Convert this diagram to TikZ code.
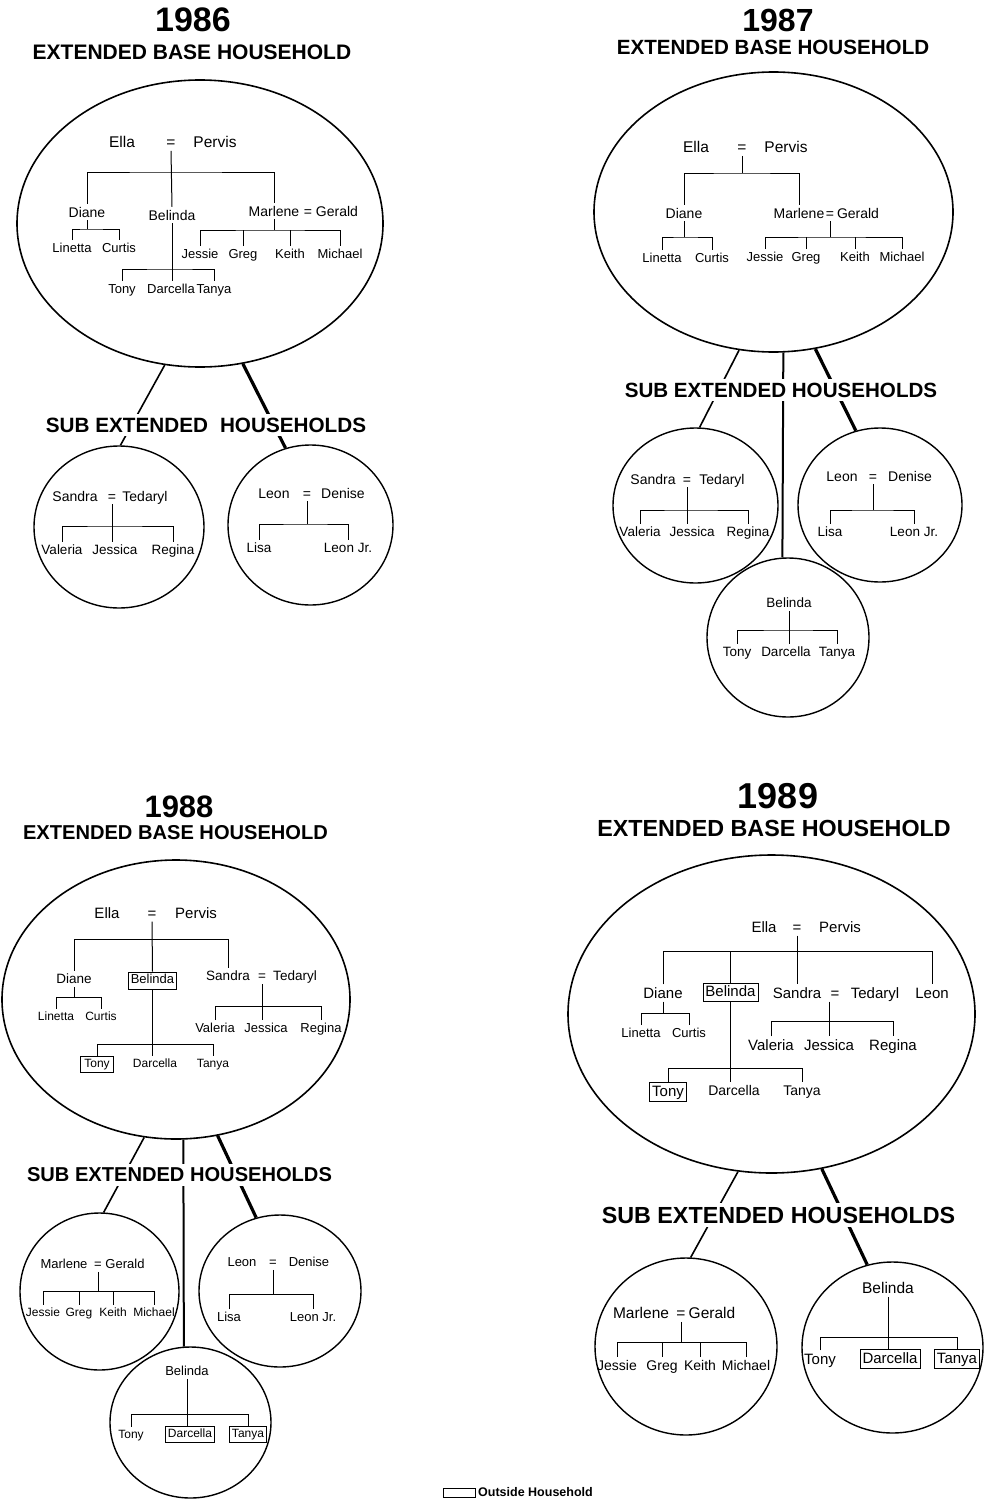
\documentclass[tikz,border=0pt]{standalone}
\usepackage{fontspec}
\setmainfont{Liberation Sans}
\usetikzlibrary{shapes.geometric}
\begin{document}
\begin{tikzpicture}[x=1pt,y=-1pt,
  nm/.style={inner xsep=0pt, inner ysep=3pt, text depth=0pt},
  f12/.style={font=\fontsize{12}{12}\selectfont, text height=8.6pt},
  f13/.style={font=\fontsize{13}{13}\selectfont, text height=9.4pt},
  f135/.style={font=\fontsize{13.5}{13.5}\selectfont, text height=9.7pt},
  f14/.style={font=\fontsize{14}{14}\selectfont, text height=10.1pt},
  f15/.style={font=\fontsize{15}{15}\selectfont, text height=10.8pt},
  f155/.style={font=\fontsize{15.5}{15.5}\selectfont, text height=11.2pt},
  bx/.style={draw, line width=0.8pt, inner xsep=2.5pt, inner ysep=2.5pt, text depth=2.5pt},
  tree/.style={line width=1pt},
  hh/.style={draw, ellipse, line width=1.6pt, inner sep=0pt},
  sh/.style={draw, ellipse, line width=1.4pt, inner sep=0pt},
  year/.style={inner sep=0pt},
  head/.style={inner sep=0pt},
  sub/.style={fill=white, inner xsep=1pt, inner ysep=4pt},
  link/.style={line width=1.6pt},
  linkM/.style={line width=2pt},
  linkT/.style={line width=3.2pt}
]
\useasboundingbox (0,0) rectangle (994,1499);

% ================= 1986 =================
\node[year, font=\bfseries\fontsize{34}{34}\selectfont] (y86) at (193,20) {1986};
\node[head, font=\bfseries\fontsize{21}{21}\selectfont] (h86) at (192,52) {EXTENDED BASE HOUSEHOLD};
\node[hh, minimum width=366pt, minimum height=287pt] (E86) at (200,223.5) {};
\node[nm,f155] (Ella86) at (122,142) {Ella};
\node[nm,f155] (eq86) at (171,142) {=};
\node[nm,f155] (Per86) at (215,142) {Pervis};
\node[nm,f14] (Dia86) at (87,212) {Diane};
\node[nm,f14] (Bel86) at (172,215) {Belinda};
\node[nm,f14] (Mar86) at (274,211) {Marlene};
\node[nm,f14] (eqM86) at (308,211) {=};
\node[nm,f14] (Ger86) at (337,211) {Gerald};
\node[nm,f13] (Lin86) at (72,248) {Linetta};
\node[nm,f13] (Cur86) at (119,248) {Curtis};
\node[nm,f13] (Jes86) at (200,254) {Jessie};
\node[nm,f13] (Gre86) at (243,254) {Greg};
\node[nm,f13] (Kei86) at (290,254) {Keith};
\node[nm,f13] (Mic86) at (340,254) {Michael};
\node[nm,f13] (Ton86) at (122,289) {Tony};
\node[nm,f13] (Dar86) at (171,289) {Darcella};
\node[nm,f13] (Tan86) at (214,289) {Tanya};
\coordinate (b86) at (171,172);
\coordinate (bD86) at (87,229);
\coordinate (bM86) at (270,230);
\coordinate (bB86) at (171,269);
\draw[tree] (eq86.south) -- (Bel86.north);
\draw[tree] (Dia86.north) |- (b86) -| (Mar86.north);
\draw[tree] (Dia86.south) -- (bD86);
\draw[tree] (Lin86.north) |- (bD86) -| (Cur86.north);
\draw[tree] (Mar86.south) -- (Mar86.south |- bM86);
\draw[tree] (Jes86.north) |- (bM86) -| (Mic86.north);
\draw[tree] (Gre86.north) -- (Gre86.north |- bM86);
\draw[tree] (Kei86.north) -- (Kei86.north |- bM86);
\draw[tree] (Bel86.south) -- (Bel86.south |- Dar86.north);
\draw[tree] (Ton86.north) |- (bB86) -| (Tan86.north);

% Sandra household 1986
\node[sh, minimum width=170pt, minimum height=162pt] (S86) at (119,527) {};
\node[nm,f14] (San86) at (75,496) {Sandra};
\node[nm,f14] (eqS86) at (112,496) {=};
\node[nm,f14] (Ted86) at (145,496) {Tedaryl};
\node[nm,f135] (Val86) at (62,550) {Valeria};
\node[nm,f135] (Jss86) at (115,550) {Jessica};
\node[nm,f135] (Reg86) at (173,550) {Regina};
\coordinate (bS86) at (112,526);
\draw[tree] (eqS86.south) -- (eqS86.south |- Jss86.north);
\draw[tree] (Val86.north) |- (bS86) -| (Reg86.north);

% Leon household 1986
\node[sh, minimum width=165pt, minimum height=160pt] (L86) at (310.5,525) {};
\node[nm,f14] (Leo86) at (274,493) {Leon};
\node[nm,f14] (eqL86) at (307,493) {=};
\node[nm,f14] (Den86) at (343,493) {Denise};
\node[nm,f135] (Lis86) at (259,548) {Lisa};
\node[nm,f135] (LJr86) at (348,548) {Leon Jr.};
\coordinate (bL86) at (307,524);
\draw[tree] (eqL86.south) -- (bL86);
\draw[tree] (Lis86.north) |- (bL86) -| (LJr86.north);

\draw[link] (E86.256) -- (S86.89);
\draw[linkT] (E86.287) -- (L86.108);
\node[sub, font=\bfseries\fontsize{20.7}{20.7}\selectfont] (s86) at (206,425) {SUB EXTENDED\hspace{12pt}HOUSEHOLDS};

% ================= 1987 =================
\node[year, font=\bfseries\fontsize{32}{32}\selectfont] (y87) at (778,20) {1987};
\node[head, font=\bfseries\fontsize{20.6}{20.6}\selectfont] (h87) at (773,47) {EXTENDED BASE HOUSEHOLD};
\node[hh, minimum width=359pt, minimum height=280pt] (E87) at (773.5,212) {};
\node[nm,f155] (Ella87) at (696,147) {Ella};
\node[nm,f155] (eq87) at (742,147) {=};
\node[nm,f155] (Per87) at (786,147) {Pervis};
\node[nm,f14] (Dia87) at (684,213) {Diane};
\node[nm,f14] (Mar87) at (799,213) {Marlene};
\node[nm,f14] (eqM87) at (830,213) {=};
\node[nm,f14] (Ger87) at (858,213) {Gerald};
\node[nm,f13] (Lin87) at (662,258) {Linetta};
\node[nm,f13] (Cur87) at (712,258) {Curtis};
\node[nm,f13] (Jes87) at (765,257) {Jessie};
\node[nm,f13] (Gre87) at (806,257) {Greg};
\node[nm,f13] (Kei87) at (855,257) {Keith};
\node[nm,f13] (Mic87) at (902,257) {Michael};
\coordinate (b87) at (742,173);
\coordinate (bD87) at (684,237);
\coordinate (bM87) at (830,237);
\draw[tree] (eq87.south) -- (b87);
\draw[tree] (Dia87.north) |- (b87) -| (Mar87.north);
\draw[tree] (Dia87.south) -- (bD87);
\draw[tree] (Lin87.north) |- (bD87) -| (Cur87.north);
\draw[tree] (eqM87.south) -- (bM87);
\draw[tree] (Jes87.north) |- (bM87) -| (Mic87.north);
\draw[tree] (Gre87.north) -- (Gre87.north |- bM87);
\draw[tree] (Kei87.north) -- (Kei87.north |- bM87);

% Sandra household 1987
\node[sh, minimum width=165pt, minimum height=155pt] (S87) at (695.5,505.5) {};
\node[nm,f14] (San87) at (653,479) {Sandra};
\node[nm,f14] (eqS87) at (687,479) {=};
\node[nm,f14] (Ted87) at (722,479) {Tedaryl};
\node[nm,f135] (Val87) at (640,532) {Valeria};
\node[nm,f135] (Jss87) at (692,532) {Jessica};
\node[nm,f135] (Reg87) at (748,532) {Regina};
\coordinate (bS87) at (688,510);
\draw[tree] (eqS87.south) -- (eqS87.south |- Jss87.north);
\draw[tree] (Val87.north) |- (bS87) -| (Reg87.north);

% Leon household 1987
\node[sh, minimum width=164pt, minimum height=154pt] (L87) at (880,505) {};
\node[nm,f14] (Leo87) at (842,476) {Leon};
\node[nm,f14] (eqL87) at (873,476) {=};
\node[nm,f14] (Den87) at (910,476) {Denise};
\node[nm,f135] (Lis87) at (830,532) {Lisa};
\node[nm,f135] (LJr87) at (914,532) {Leon Jr.};
\coordinate (bL87) at (873,510);
\draw[tree] (eqL87.south) -- (bL87);
\draw[tree] (Lis87.north) |- (bL87) -| (LJr87.north);

% Belinda household 1987
\node[sh, minimum width=162pt, minimum height=159pt] (B87) at (788,637.5) {};
\node[nm,f135] (Bel87) at (789,603) {Belinda};
\node[nm,f135] (Ton87) at (737,652) {Tony};
\node[nm,f135] (Dar87) at (786,652) {Darcella};
\node[nm,f135] (Tan87) at (837,652) {Tanya};
\coordinate (bB87) at (789,630);
\draw[tree] (Bel87.south) -- (Bel87.south |- Dar87.north);
\draw[tree] (Ton87.north) |- (bB87) -| (Tan87.north);

\draw[link] (E87.256) -- (S87.87);
\draw[linkM] (E87.274) -- (B87.94);
\draw[linkT] (E87.287) -- (L87.108);
\node[sub, font=\bfseries\fontsize{20.6}{20.6}\selectfont] (s87) at (781,390) {SUB EXTENDED HOUSEHOLDS};

% ================= 1988 =================
\node[year, font=\bfseries\fontsize{31}{31}\selectfont] (y88) at (179,807) {1988};
\node[head, font=\bfseries\fontsize{20.1}{20.1}\selectfont] (h88) at (175.5,833) {EXTENDED BASE HOUSEHOLD};
\node[hh, minimum width=348pt, minimum height=279pt] (E88) at (176,999.5) {};
\node[nm,f15] (Ella88) at (107,913) {Ella};
\node[nm,f15] (eq88) at (152,913) {=};
\node[nm,f15] (Per88) at (196,913) {Pervis};
\node[nm,f135] (Dia88) at (74,979) {Diane};
\node[nm,f13,bx] (Bel88) at (152.5,980.5) {Belinda};
\node[nm,f135] (San88) at (228,976) {Sandra};
\node[nm,f135] (eqS88) at (262,976) {=};
\node[nm,f135] (Ted88) at (295,976) {Tedaryl};
\node[nm,f12] (Lin88) at (56,1016) {Linetta};
\node[nm,f12] (Cur88) at (101,1016) {Curtis};
\node[nm,f13] (Val88) at (215,1028) {Valeria};
\node[nm,f13] (Jss88) at (266,1028) {Jessica};
\node[nm,f13] (Reg88) at (321,1028) {Regina};
\node[nm,f12,bx,inner xsep=4pt] (Ton88) at (97,1064) {Tony};
\node[nm,f12] (Dar88) at (155,1063) {Darcella};
\node[nm,f12] (Tan88) at (213,1063) {Tanya};
\coordinate (b88) at (152,939);
\coordinate (bD88) at (74,997);
\coordinate (bS88) at (262,1006);
\coordinate (bB88) at (152,1044);
\draw[tree] (eq88.south) -- (Bel88.north);
\draw[tree] (Dia88.north) |- (b88) -| (San88.north);
\draw[tree] (Dia88.south) -- (bD88);
\draw[tree] (Lin88.north) |- (bD88) -| (Cur88.north);
\draw[tree] (eqS88.south) -- (eqS88.south |- Jss88.north);
\draw[tree] (Val88.north) |- (bS88) -| (Reg88.north);
\draw[tree] (Bel88.south) -- (Bel88.south |- Dar88.north);
\draw[tree] (Ton88.north) |- (bB88) -| (Tan88.north);

% Marlene household 1988
\node[sh, minimum width=159pt, minimum height=157pt] (M88) at (99.5,1291.5) {};
\node[nm,f13] (Mar88) at (64,1264) {Marlene};
\node[nm,f13] (eqM88) at (98,1264) {=};
\node[nm,f13] (Ger88) at (125,1264) {Gerald};
\node[nm,f12] (Jes88) at (43,1312) {Jessie};
\node[nm,f12] (Gre88) at (79,1312) {Greg};
\node[nm,f12] (Kei88) at (113,1312) {Keith};
\node[nm,f12] (Mic88) at (154,1312) {Michael};
\coordinate (bM88) at (98,1291);
\draw[tree] (eqM88.south) -- (bM88);
\draw[tree] (Jes88.north) |- (bM88) -| (Mic88.north);
\draw[tree] (Gre88.north) -- (Gre88.north |- bM88);
\draw[tree] (Kei88.north) -- (Kei88.north |- bM88);

% Leon household 1988
\node[sh, minimum width=162pt, minimum height=152pt] (L88) at (280,1291) {};
\node[nm,f13] (Leo88) at (242,1262) {Leon};
\node[nm,f13] (eqL88) at (273,1262) {=};
\node[nm,f13] (Den88) at (309,1262) {Denise};
\node[nm,f13] (Lis88) at (229,1317) {Lisa};
\node[nm,f13] (LJr88) at (313,1317) {Leon Jr.};
\coordinate (bL88) at (273,1294);
\draw[tree] (eqL88.south) -- (bL88);
\draw[tree] (Lis88.north) |- (bL88) -| (LJr88.north);

% Belinda household 1988
\node[sh, minimum width=161pt, minimum height=151pt] (B88) at (190.5,1422.5) {};
\node[nm,f13] (Bel88b) at (187,1371) {Belinda};
\node[nm,f12] (Ton88b) at (131,1434) {Tony};
\node[nm,f12,bx] (Dar88b) at (190,1434) {Darcella};
\node[nm,f12,bx] (Tan88b) at (248,1434) {Tanya};
\coordinate (bB88b) at (187,1414);
\draw[tree] (Bel88b.south) -- (Bel88b.south |- Dar88b.north);
\draw[tree] (Ton88b.north) |- (bB88b) -| (Tan88b.north);

\draw[link] (E88.257) -- (M88.87);
\draw[linkM] (E88.273) -- (B88.95);
\draw[linkT] (E88.287) -- (L88.108);
\node[sub, font=\bfseries\fontsize{20.1}{20.1}\selectfont] (s88) at (179.5,1175) {SUB EXTENDED HOUSEHOLDS};

% ================= 1989 =================
\node[year, font=\bfseries\fontsize{36}{36}\selectfont] (y89) at (778,796) {1989};
\node[head, font=\bfseries\fontsize{23.3}{23.3}\selectfont] (h89) at (774,828) {EXTENDED BASE HOUSEHOLD};
\node[hh, minimum width=407pt, minimum height=318pt] (E89) at (771.5,1014) {};
\node[nm,f15] (Ella89) at (764,927) {Ella};
\node[nm,f15] (eq89) at (797,927) {=};
\node[nm,f15] (Per89) at (840,927) {Pervis};
\node[nm,f15] (Dia89) at (663,993) {Diane};
\node[nm,f15,bx] (Bel89) at (730.5,992.5) {Belinda};
\node[nm,f15] (San89) at (797,993) {Sandra};
\node[nm,f15] (eqS89) at (835,993) {=};
\node[nm,f15] (Ted89) at (875,993) {Tedaryl};
\node[nm,f15] (Leo89) at (932,993) {Leon};
\node[nm,f13] (Lin89) at (641,1033) {Linetta};
\node[nm,f13] (Cur89) at (689,1033) {Curtis};
\node[nm,f15] (Val89) at (771,1045) {Valeria};
\node[nm,f15] (Jss89) at (829,1045) {Jessica};
\node[nm,f15] (Reg89) at (893,1045) {Regina};
\node[nm,f15,bx] (Ton89) at (668,1092) {Tony};
\node[nm,f14] (Dar89) at (734,1090) {Darcella};
\node[nm,f14] (Tan89) at (802,1090) {Tanya};
\coordinate (b89) at (797,951);
\coordinate (bD89) at (663,1013);
\coordinate (bS89) at (829,1021);
\coordinate (bB89) at (731,1068);
\draw[tree] (eq89.south) -- (San89.north);
\draw[tree] (Dia89.north) |- (b89) -| (Leo89.north);
\draw[tree] (Bel89.north) -- (Bel89.north |- b89);
\draw[tree] (Dia89.south) -- (bD89);
\draw[tree] (Lin89.north) |- (bD89) -| (Cur89.north);
\draw[tree] (Jss89.north |- eqS89.south) -- (Jss89.north);
\draw[tree] (Val89.north) |- (bS89) -| (Reg89.north);
\draw[tree] (Bel89.south) -- (Bel89.south |- Dar89.north);
\draw[tree] (Ton89.north) |- (bB89) -| (Tan89.north);

% Marlene household 1989
\node[sh, minimum width=182pt, minimum height=177pt] (M89) at (686,1346.5) {};
\node[nm,f155] (Mar89) at (641,1313) {Marlene};
\node[nm,f155] (eqM89) at (681,1313) {=};
\node[nm,f155] (Ger89) at (712,1313) {Gerald};
\node[nm,f14] (Jes89) at (617,1365) {Jessie};
\node[nm,f14] (Gre89) at (662,1365) {Greg};
\node[nm,f14] (Kei89) at (700,1365) {Keith};
\node[nm,f14] (Mic89) at (746,1365) {Michael};
\coordinate (bM89) at (681,1342);
\draw[tree] (eqM89.south) -- (bM89);
\draw[tree] (Jes89.north) |- (bM89) -| (Mic89.north);
\draw[tree] (Gre89.north) -- (Gre89.north |- bM89);
\draw[tree] (Kei89.north) -- (Kei89.north |- bM89);

% Belinda household 1989
\node[sh, minimum width=181pt, minimum height=171pt] (B89) at (892.5,1347.5) {};
\node[nm,f155] (Bel89b) at (888,1288) {Belinda};
\node[nm,f15] (Ton89b) at (820,1359) {Tony};
\node[nm,f15,bx] (Dar89b) at (890,1359) {Darcella};
\node[nm,f15,bx] (Tan89b) at (957,1359) {Tanya};
\coordinate (bB89b) at (888,1337);
\draw[tree] (Bel89b.south) -- (Bel89b.south |- Dar89b.north);
\draw[tree] (Ton89b.north) |- (bB89b) -| (Tan89b.north);

\draw[link] (E89.258) -- (M89.87);
\draw[linkT] (E89.288) -- (B89.107);
\node[sub, font=\bfseries\fontsize{23.3}{23.3}\selectfont] (s89) at (778.5,1215) {SUB EXTENDED HOUSEHOLDS};

% ================= key =================
\node[draw, line width=0.8pt, minimum width=32pt, minimum height=9pt, inner sep=0pt] (keybox) at (459,1492.5) {};
\node[anchor=west, inner sep=0pt, font=\bfseries\fontsize{12.5}{12.5}\selectfont] (keytxt) at (478,1492.5) {Outside Household};
\end{tikzpicture}
\end{document}
